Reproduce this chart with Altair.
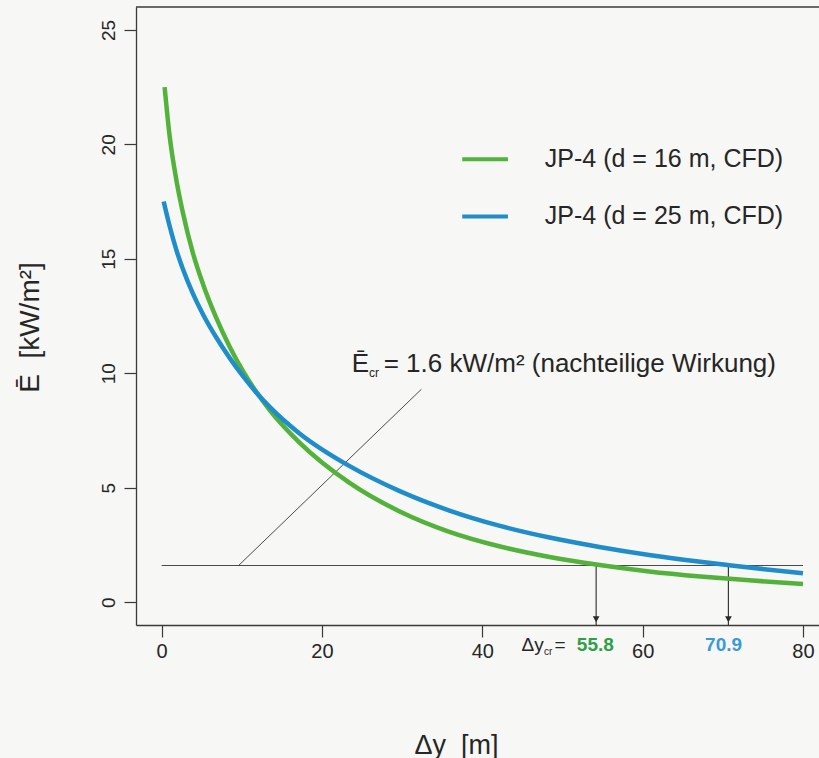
import altair as alt
import pandas as pd

# ---------------- data ----------------
series_names = ["JP-4 (d = 16 m, CFD)", "JP-4 (d = 25 m, CFD)"]
series_colors = ["#52B23C", "#1F8DC9"]

x_green = [0.37, 1.0, 1.83, 2.66, 3.9, 5.15, 6.8, 8.5, 10.15, 11.8, 13.5, 17.2, 23.4, 29.7, 35.9, 42.1, 48.4, 54.2, 60.8, 67.2, 73.3, 80.0]
e_green = [22.5, 20.35, 18.45, 17.0, 15.25, 13.9, 12.43, 11.15, 10.09, 9.19, 8.38, 6.97, 5.22, 3.96, 3.07, 2.44, 1.97, 1.64, 1.34, 1.12, 0.95, 0.79]

x_blue = [0.25, 1.0, 1.83, 2.66, 3.9, 5.15, 6.8, 8.5, 10.15, 11.8, 13.5, 17.2, 23.4, 29.7, 35.9, 42.1, 48.4, 54.6, 60.8, 67.2, 70.8, 73.3, 80.0]
e_blue = [17.5, 16.42, 15.39, 14.54, 13.48, 12.58, 11.57, 10.66, 9.87, 9.16, 8.52, 7.37, 5.95, 4.85, 4.0, 3.34, 2.82, 2.41, 2.06, 1.76, 1.61, 1.51, 1.26]

e_crit = 1.6                      # critical irradiance
crit_range = [0, 80]              # extent of the horizontal reference line
dy_crit_pos = [54.2, 70.7]        # where the drop lines sit in the picture
dy_crit_labels = ["55.8", "70.9"]
label_colors = ["#2E9F48", "#3A9AD6"]

x_ticks = [0, 20, 40, 60, 80]
y_ticks = [0, 5, 10, 15, 20, 25]
x_domain = [-3.2, 82.0]
y_domain = [-1.0, 26.0]

FONT = "Liberation Sans"
TXT = "#262626"
LINE = "#3a3a3a"

xscale = alt.Scale(domain=x_domain, nice=False, zero=False)
yscale = alt.Scale(domain=y_domain, nice=False, zero=False)

xaxis = alt.Axis(values=x_ticks, title="Δy\u00a0 [m]", grid=False, tickSize=12, tickWidth=1.2,
                 domainWidth=1.3, domainColor=LINE, tickColor=LINE,
                 labelFont=FONT, labelFontSize=20, labelColor=TXT, labelBaseline="middle",
                 labelPadding=14, labelFlush=False,
                 titleFont=FONT, titleFontSize=27, titleFontWeight="normal", titleColor=TXT,
                 titleX=320, titleY=120, titleAlign="center", titleBaseline="middle")
yaxis = alt.Axis(values=y_ticks, title="Ē\u00a0 [kW/m²]", grid=False, tickSize=12, tickWidth=1.2,
                 domainWidth=1.3, domainColor=LINE, tickColor=LINE,
                 labelFont=FONT, labelFontSize=19, labelColor=TXT, labelAngle=270,
                 labelAlign="center", labelBaseline="middle", labelPadding=16, labelFlush=False,
                 titleFont=FONT, titleFontSize=28, titleFontWeight="normal", titleColor=TXT,
                 titleAngle=270, titleX=-106, titleY=320, titleAlign="center", titleBaseline="middle")


def X(field="x"):
    return alt.X(field, type="quantitative", scale=xscale, axis=xaxis)


def Y(field="y"):
    return alt.Y(field, type="quantitative", scale=yscale, axis=yaxis)


df_green = pd.DataFrame({"x": x_green, "y": e_green})
df_blue = pd.DataFrame({"x": x_blue, "y": e_blue})

# top frame line
top = alt.Chart(pd.DataFrame({"y": [y_domain[1]]})).mark_rule(color=LINE, strokeWidth=1.3).encode(y=Y())

# horizontal critical line
crit = alt.Chart(pd.DataFrame({"x": [crit_range[0]], "x2": [crit_range[1]], "y": [e_crit]})).mark_rule(
    color="#4a4a4a", strokeWidth=1.2).encode(x=X(), x2="x2", y=Y())

# leader line to annotation
leader = alt.Chart(pd.DataFrame({"x": [9.6], "x2": [32.4], "y": [e_crit], "y2": [9.3]})).mark_rule(
    color="#4a4a4a", strokeWidth=1.0).encode(x=X(), x2="x2", y=Y(), y2="y2")

# drop lines
drops = alt.Chart(pd.DataFrame({"x": dy_crit_pos, "y": [e_crit] * 2, "y2": [y_domain[0]] * 2})).mark_rule(
    color="#3a3a3a", strokeWidth=1.2).encode(x=X(), y=Y(), y2="y2")
heads = alt.Chart(pd.DataFrame({"x": dy_crit_pos, "y": [-0.75] * 2})).mark_point(
    shape="triangle-down", filled=True, size=45, color="#2a2a2a", opacity=1).encode(x=X(), y=Y())

# curves
green = alt.Chart(df_green).mark_line(color=series_colors[0], strokeWidth=4.5, interpolate="monotone").encode(x=X(), y=Y())
blue = alt.Chart(df_blue).mark_line(color=series_colors[1], strokeWidth=4.5, interpolate="monotone").encode(x=X(), y=Y())

# manual legend
leg_y = [19.35, 16.85]
leg_lines = alt.Chart(pd.DataFrame({"x": [37.5] * 2, "x2": [43.2] * 2, "y": leg_y, "s": series_names})).mark_rule(
    strokeWidth=4).encode(x=X(), x2="x2", y=Y(),
                          color=alt.Color("s:N", scale=alt.Scale(domain=series_names, range=series_colors), legend=None))
leg_text = alt.Chart(pd.DataFrame({"x": [47.8] * 2, "y": leg_y, "t": series_names})).mark_text(
    align="left", baseline="middle", font=FONT, fontSize=25, color=TXT).encode(x=X(), y=Y(), text="t:N")

# annotation  Ē_cr = 1.6 kW/m² (nachteilige Wirkung)
ann_main = alt.Chart(pd.DataFrame({"x": [23.7], "y": [10.07], "t": ["Ē"]})).mark_text(
    align="left", baseline="alphabetic", font=FONT, fontSize=26, color=TXT).encode(x=X(), y=Y(), text="t:N")
ann_sub = alt.Chart(pd.DataFrame({"x": [25.85], "y": [9.85], "t": ["cr"]})).mark_text(
    align="left", baseline="alphabetic", font=FONT, fontSize=12, color=TXT).encode(x=X(), y=Y(), text="t:N")
ann_rest = alt.Chart(pd.DataFrame({"x": [27.7], "y": [10.07], "t": ["= 1.6 kW/m² (nachteilige Wirkung)"]})).mark_text(
    align="left", baseline="alphabetic", font=FONT, fontSize=26, color=TXT).encode(x=X(), y=Y(), text="t:N")

# Δy_cr = 55.8   70.9
dy_a = alt.Chart(pd.DataFrame({"x": [44.9], "y": [-1.87], "t": ["Δy"]})).mark_text(
    align="left", baseline="middle", font=FONT, fontSize=19, color=TXT).encode(x=X(), y=Y(), text="t:N")
dy_b = alt.Chart(pd.DataFrame({"x": [47.7], "y": [-2.2], "t": ["cr"]})).mark_text(
    align="left", baseline="middle", font=FONT, fontSize=10, color=TXT).encode(x=X(), y=Y(), text="t:N")
dy_c = alt.Chart(pd.DataFrame({"x": [49.0], "y": [-1.87], "t": ["="]})).mark_text(
    align="left", baseline="middle", font=FONT, fontSize=19, color=TXT).encode(x=X(), y=Y(), text="t:N")
dy_vals = alt.Chart(pd.DataFrame({"x": [54.1, 70.1], "y": [-1.87] * 2, "t": dy_crit_labels, "c": label_colors})).mark_text(
    align="center", baseline="middle", font=FONT, fontSize=19, fontWeight="bold").encode(
    x=X(), y=Y(), text="t:N", color=alt.Color("c:N", scale=None))

chart = alt.layer(top, crit, leader, drops, heads, green, blue, leg_lines, leg_text,
                  ann_main, ann_sub, ann_rest, dy_a, dy_b, dy_c, dy_vals).properties(
    width=683, height=618,
    padding={"left": 136, "top": 7, "right": 0, "bottom": 133},
    autosize=alt.AutoSizeParams(type="none"),
    background="#f7f7f5",
).configure_view(stroke=None)

chart.save("out.html", embed_options={"renderer": "svg", "actions": False})
